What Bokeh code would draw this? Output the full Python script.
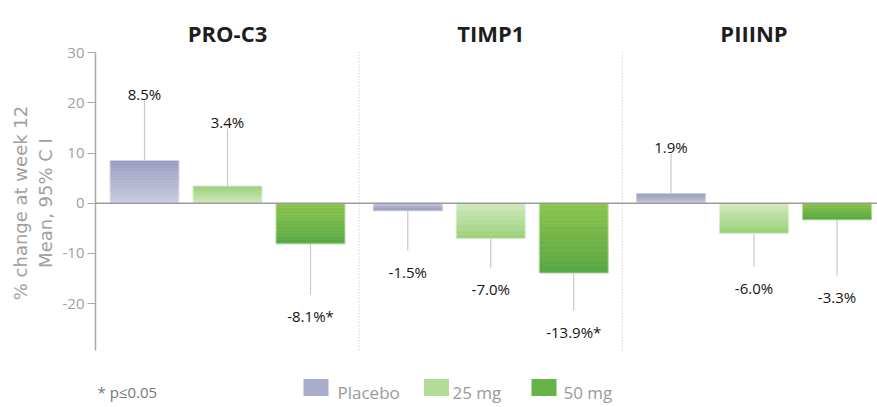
import numpy as np
from bokeh.plotting import figure
from bokeh.models import Range1d, Span, FixedTicker, PrintfTickFormatter
from bokeh.core.properties import value
from bokeh.embed import file_html
from bokeh.resources import INLINE

# ---------------- data ----------------
groups = ["PRO-C3", "TIMP1", "PIIINP"]
series = ["Placebo", "25 mg", "50 mg"]
placebo = [8.5, -1.5, 1.9]
mg25 = [3.4, -7.0, -6.0]
mg50 = [-8.1, -13.9, -3.3]
placebo_ci = [20.5, -9.4, 9.8]     # outer end of 95% CI
mg25_ci = [14.9, -12.9, -12.7]
mg50_ci = [-18.2, -21.4, -14.4]
placebo_sig = [False, False, False]
mg25_sig = [False, False, False]
mg50_sig = [True, True, False]     # * p<=0.05
yticks = [-20, -10, 0, 10, 20, 30]
footnote = "* p\u22640.05"
y_label = "% change at week 12\nMean, 95% C I"

# ---------------- style ----------------
near_cols = ["#cacce0", "#d2e9c0", "#8dc44c"]
far_cols = ["#9a9dc0", "#9ad178", "#57a744"]
swatch_cols = ["#a9acca", "#b3dc98", "#66b347"]
FONT = value("Open Sans")
GROUP_STEP = 3.1717
BAR_W = 0.83
AX_LO, AX_HI = -29.3, 30.0
W, H = 877, 405
PXU = 5.02            # pixels per y unit
Y_END = 202.7 / PXU   # zero line at 202.7 px from top

def px(xpix):
    # page pixel -> x data unit (layout helper for legend/footnote only)
    return (xpix - 227.0) / 83.0

def py(ypix):
    # page pixel -> y data unit (layout helper for titles/legend only)
    return Y_END - ypix / PXU

def hex2rgb(h):
    return np.array([int(h[i:i + 2], 16) for i in (1, 3, 5)], float)

def rgb2hex(c):
    return "#%02x%02x%02x" % tuple(int(round(v)) for v in c)

p = figure(width=W, height=H,
           x_range=Range1d(px(95), px(W)), y_range=Range1d(Y_END - H / PXU, Y_END),
           output_backend="svg", toolbar_location=None,
           x_axis_location=None, y_axis_location="left",
           min_border_left=95, min_border_right=0, min_border_top=0, min_border_bottom=0,
           outline_line_color=None, background_fill_color="white", border_fill_color="white")
p.grid.visible = False

ax = p.yaxis[0]
ax.bounds = (AX_LO, AX_HI)
ax.ticker = FixedTicker(ticks=yticks)
ax.formatter = PrintfTickFormatter(format="%d")
ax.minor_tick_line_color = None
ax.major_tick_in = 0
ax.major_tick_out = 8
ax.axis_line_color = "#a8a8a8"
ax.axis_line_width = 1.5
ax.major_tick_line_color = "#a8a8a8"
ax.major_tick_line_width = 1.2
ax.major_label_text_font = "Open Sans"
ax.major_label_text_font_size = "15px"
ax.major_label_text_color = "#a0a0a0"
ax.major_label_standoff = 3
ax.axis_label = y_label
ax.axis_label_text_font = "DejaVu Sans"
ax.axis_label_text_font_size = "18px"
ax.axis_label_text_font_style = "normal"
ax.axis_label_text_color = "#a0a0a0"
ax.axis_label_standoff = 4
ax.axis_label_text_line_height = 1.19

# zero line
p.add_layout(Span(location=0, dimension="width", line_color="#9c9c9c", line_width=1.5))

# group separators
seps = [(g + 0.5) * GROUP_STEP for g in range(len(groups) - 1)]
p.segment(x0=seps, y0=[AX_LO] * len(seps), x1=seps, y1=[AX_HI + 0.3] * len(seps),
          line_color="#c4c4c4", line_width=1, line_dash="1 2")

all_vals = [placebo, mg25, mg50]
all_ci = [placebo_ci, mg25_ci, mg50_ci]
all_sig = [placebo_sig, mg25_sig, mg50_sig]

N = 28
L, R, B, T, C = [], [], [], [], []
ox, ob, ot = [], [], []
ex, e0, e1 = [], [], []
lx, ly, lt, loff = [], [], [], []
for j, (vals, cis, sigs) in enumerate(zip(all_vals, all_ci, all_sig)):
    nr, fr = hex2rgb(near_cols[j]), hex2rgb(far_cols[j])
    for g, (v, ci, sg) in enumerate(zip(vals, cis, sigs)):
        xc = g * GROUP_STEP + (j - 1)
        edges = np.linspace(0, v, N + 1)
        t = (np.arange(N) + 0.5) / N
        for k in range(N):
            L.append(xc - BAR_W / 2)
            R.append(xc + BAR_W / 2)
            B.append(min(edges[k], edges[k + 1]))
            T.append(max(edges[k], edges[k + 1]))
            C.append(rgb2hex(nr * (1 - t[k]) + fr * t[k]))
        ox.append(xc)
        ob.append(min(0, v))
        ot.append(max(0, v))
        ex.append(xc)
        e0.append(v)
        e1.append(ci)
        lx.append(xc)
        ly.append(ci)
        lt.append(f"{v:.1f}%" + ("*" if sg else ""))
        loff.append(-6.7 if v > 0 else 21.5)

p.segment(x0=ex, y0=e0, x1=ex, y1=e1, line_color="#c9c9c9", line_width=1.2)
p.quad(left=L, right=R, bottom=B, top=T, fill_color=C, line_color=C, line_width=0.6)
p.quad(left=[x - BAR_W / 2 for x in ox], right=[x + BAR_W / 2 for x in ox],
       bottom=ob, top=ot, fill_color=None, line_color="white", line_alpha=0.45, line_width=1)

p.text(x=lx, y=ly, text=lt, y_offset=loff, text_font=FONT, text_font_size="15px",
       text_color="#151515", text_align="center", text_baseline="alphabetic")

# group titles
gx = [g * GROUP_STEP for g in range(len(groups))]
p.text(x=gx, y=[py(32)] * len(groups), text=groups, text_font=FONT, text_font_size="22px",
       text_font_style="bold", text_color="#1e1e1e", text_align="center",
       text_baseline="alphabetic")

# legend (manual)
sw_x = [px(315.5), px(436), px(543.5)]
tx_x = [px(337), px(452), px(563)]
p.rect(x=sw_x, y=[py(387)] * 3, width=25, height=17, width_units="screen",
       height_units="screen", fill_color=swatch_cols, line_color=None)
p.text(x=tx_x, y=[py(392)] * 3, text=series, text_font=FONT, text_font_size="17px",
       text_color="#9a9a9a", text_align="left", text_baseline="alphabetic")

# footnote
p.text(x=[px(97)], y=[py(391)], text=[footnote], text_font=FONT, text_font_size="15px",
       text_color="#777777", text_align="left", text_baseline="alphabetic")

open("out.html", "w").write(file_html(p, INLINE))
